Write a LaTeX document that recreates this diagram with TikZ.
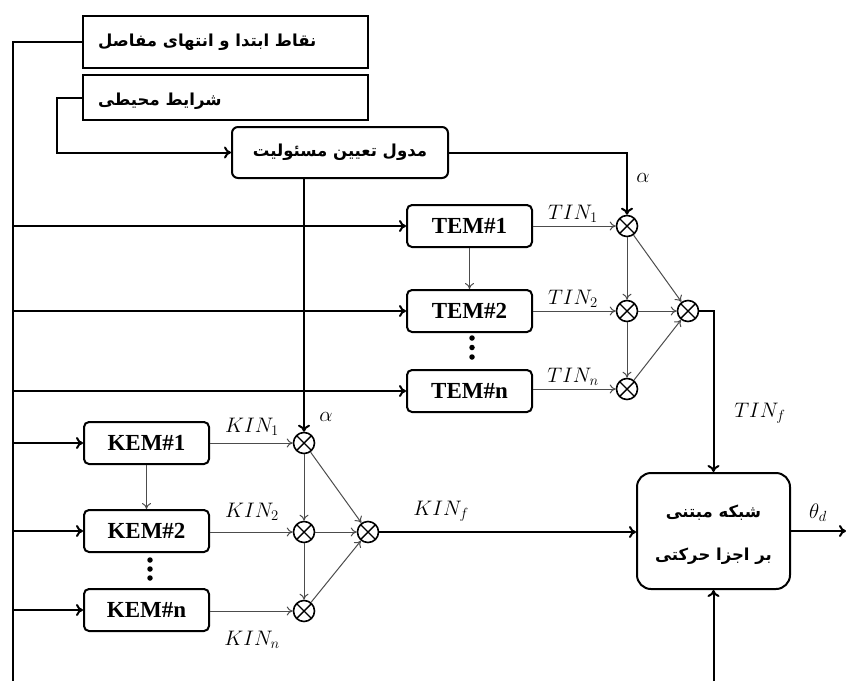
\documentclass[tikz,border=0pt]{standalone}
\usepackage{fix-cm}
\usepackage{fontspec}
\setmainfont{Liberation Serif}
\newfontfamily\fa[Script=Arabic]{DejaVu Sans}
\TeXXeTstate=1
\usetikzlibrary{arrows.meta}
\tikzset{
  thk/.style={line width=2pt},
  arr/.style={line width=2pt, -{To[length=7pt,width=12pt]}},
  thinarr/.style={line width=1pt, draw=black!70, -{To[length=6pt,width=9pt]}},
  embox/.style={draw, line width=2pt, rounded corners=5pt, minimum width=125pt, minimum height=42pt, inner sep=0pt, font=\fontsize{23}{27}\bfseries\selectfont},
  sqbox/.style={draw, line width=2pt, minimum width=285pt, minimum height=52pt, inner sep=0pt},
  multnode/.style={circle, draw, line width=1.6pt, minimum size=21pt, inner sep=0pt,
    path picture={\draw[line width=1.4pt] (path picture bounding box.south west) -- (path picture bounding box.north east) (path picture bounding box.north west) -- (path picture bounding box.south east);}},
  fatxt/.style={font=\fa\bfseries\fontsize{16.5}{20}\selectfont, inner sep=0pt},
  lbl/.style={font=\fontsize{21}{25}\selectfont, inner sep=0pt},
  dotnode/.style={circle, fill, inner sep=0pt, minimum size=5.5pt},
}
\begin{document}
\begin{tikzpicture}[x=1pt,y=-1pt]
\useasboundingbox (0,0) rectangle (846,681);
% top boxes
\node[sqbox] (b1) at (225.5,41.5) {};
\node[fatxt, anchor=west] (t1) at (98,42) {\beginR نقاط ابتدا و انتهای مفاصل\endR};
\node[sqbox, minimum height=45pt] (b2) at (225.5,97.5) {};
\node[fatxt, anchor=west] (t2) at (98,101) {\beginR شرایط محیطی\endR};
\node[draw, line width=2pt, rounded corners=6pt, minimum width=216pt, minimum height=51pt, fatxt] (b3) at (340,152.5) {\beginR مدول تعیین مسئولیت\endR};
% TEM
\node[embox] (tem1) at (469.5,226) {TEM\#1};
\node[embox] (tem2) at (469.5,311) {TEM\#2};
\node[embox] (temn) at (469.5,391) {TEM\#n};
\node[dotnode] (td1) at (472,338) {};
\node[dotnode] (td2) at (472,347.5) {};
\node[dotnode] (td3) at (472,357) {};
\node[multnode] (mt1) at (627,226) {};
\node[multnode] (mt2) at (627,311) {};
\node[multnode] (mt3) at (627,389) {};
\node[multnode] (mtf) at (688,311) {};
% KEM
\node[embox] (kem1) at (146.5,443) {KEM\#1};
\node[embox] (kem2) at (146.5,531) {KEM\#2};
\node[embox] (kemn) at (146.5,610) {KEM\#n};
\node[dotnode] (kd1) at (150,560) {};
\node[dotnode] (kd2) at (150,569) {};
\node[dotnode] (kd3) at (150,578) {};
\node[multnode] (mk1) at (304,443) {};
\node[multnode] (mk2) at (304,532) {};
\node[multnode] (mk3) at (304,611) {};
\node[multnode] (mkf) at (368,532) {};
% main box
\node[draw, line width=2pt, rounded corners=14pt, minimum width=153pt, minimum height=116pt,
  label={[name=maintext, align=center, yshift=-4pt, font=\fa\bfseries\fontsize{16.5}{43}\selectfont]center:{\beginR شبکه مبتنی\endR\\\beginR بر اجزا حرکتی\endR}}] (main) at (713.5,531) {};
% coordinates
\coordinate (lt) at (13,41.5);
\coordinate (lb) at (13,681);
\coordinate (i1) at (13,226);
\coordinate (i2) at (13,311);
\coordinate (i3) at (13,391);
\coordinate (i4) at (13,443);
\coordinate (i5) at (13,531);
\coordinate (i6) at (13,610);
\coordinate (out) at (846,531);
\coordinate (bot) at (713.5,681);
% left bus
\draw[thk] (b1.west) -- (lt) -- (lb);
\draw[arr] (i1) -- (tem1.west);
\draw[arr] (i2) -- (tem2.west);
\draw[arr] (i3) -- (temn.west);
\draw[arr] (i4) -- (kem1.west);
\draw[arr] (i5) -- (kem2.west);
\draw[arr] (i6) -- (kemn.west);
% environment to module
\draw[arr] (b2.west) -- ++(-25,0) |- (b3.west);
\draw[arr] (b3.east) -| (mt1.north);
\draw[arr] (b3.south -| mk1.north) -- (mk1.north);
% TEM internals
\draw[thinarr] (tem1.east) -- (mt1.west);
\draw[thinarr] (tem2.east) -- (mt2.west);
\draw[thinarr] (temn.east |- mt3.west) -- (mt3.west);
\draw[thinarr] (tem1.south) -- (tem2.north);
\draw[thinarr] (mt1.south) -- (mt2.north);
\draw[thinarr] (mt2.south) -- (mt3.north);
\draw[thinarr] (mt1) -- (mtf);
\draw[thinarr] (mt2.east) -- (mtf.west);
\draw[thinarr] (mt3) -- (mtf);
% KEM internals
\draw[thinarr] (kem1.east) -- (mk1.west);
\draw[thinarr] (kem2.east |- mk2.west) -- (mk2.west);
\draw[thinarr] (kemn.east |- mk3.west) -- (mk3.west);
\draw[thinarr] (kem1.south) -- (kem2.north);
\draw[thinarr] (mk1.south) -- (mk2.north);
\draw[thinarr] (mk2.south) -- (mk3.north);
\draw[thinarr] (mk1) -- (mkf);
\draw[thinarr] (mk2.east) -- (mkf.west);
\draw[thinarr] (mk3) -- (mkf);
% to main
\draw[arr] (mtf.east) -| (main.north);
\draw[arr] (mkf.east) -- (mkf.east -| main.west);
\draw[arr] (main.east |- out) -- (out);
\draw[arr] (bot) -- (main.south);
% labels
\node[lbl] (a1) at (643,178) {$\alpha$};
\node[lbl] (a2) at (326,417) {$\alpha$};
\node[lbl] (ltin1) at (573,214) {$TIN_1$};
\node[lbl] (ltin2) at (573,299) {$TIN_2$};
\node[lbl] (ltinn) at (573,377) {$TIN_n$};
\node[lbl] (ltinf) at (760,413) {$TIN_f$};
\node[lbl] (lkin1) at (252,427) {$KIN_1$};
\node[lbl] (lkin2) at (252,512) {$KIN_2$};
\node[lbl] (lkinn) at (252,640) {$KIN_n$};
\node[lbl] (lkinf) at (441,511) {$KIN_f$};
\node[lbl] (lth) at (818,513) {$\theta_d$};
\end{tikzpicture}
\end{document}
